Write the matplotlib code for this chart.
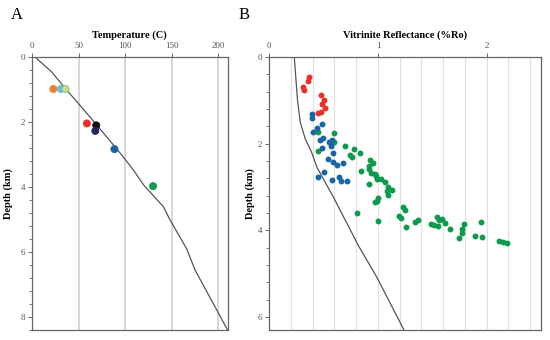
import numpy as np
import matplotlib
matplotlib.use("Agg")
import matplotlib.pyplot as plt
from matplotlib.ticker import MultipleLocator

# ------------------------------------------------------------------
# Panel A: temperature profile and well temperatures
# ------------------------------------------------------------------
temp_line_t = [3.5, 21, 37, 67, 96, 109, 120, 141, 148, 166, 175, 210]
temp_line_z = [0.0, 0.45, 1.0, 2.0, 3.0, 3.48, 3.94, 4.6, 5.0, 5.9, 6.55, 8.4]

temp_pts_t = [23, 31, 36, 59, 69, 68, 88.5, 130]
temp_pts_z = [0.98, 0.98, 0.98, 2.04, 2.1, 2.27, 2.83, 3.97]
temp_pts_c = ["#f07d2c", "#5cc3e6", "#c6df8e", "#ec2f2c", "#111111",
              "#24275f", "#1866a5", "#0c9a4c"]
temp_pts_e = ["#f07d2c", "#5cc3e6", "#9bbd5c", "#ec2f2c", "#111111",
              "#24275f", "#1866a5", "#0c9a4c"]

# ------------------------------------------------------------------
# Panel B: vitrinite reflectance model and measurements
# ------------------------------------------------------------------
ro_line_x = [0.23, 0.245, 0.26, 0.285, 0.33, 0.39, 0.44, 0.59, 0.82, 0.99, 1.24]
ro_line_z = [0.0, 0.5, 1.0, 1.5, 1.88, 2.2, 2.55, 3.23, 4.35, 5.08, 6.3]

red_ro = [0.365, 0.359, 0.313, 0.322, 0.473, 0.503, 0.482, 0.512, 0.476, 0.445]
red_z = [0.46, 0.56, 0.68, 0.77, 0.88, 0.98, 1.08, 1.18, 1.27, 1.28]

blue_ro = [0.39, 0.39, 0.488, 0.44, 0.405, 0.466, 0.49, 0.552, 0.574, 0.565,
           0.488, 0.583, 0.543, 0.59, 0.62, 0.68, 0.506, 0.445, 0.574, 0.644,
           0.66, 0.712]
blue_z = [1.31, 1.40, 1.54, 1.64, 1.73, 1.91, 1.87, 1.95, 1.92, 2.04,
          2.09, 2.22, 2.36, 2.42, 2.50, 2.45, 2.64, 2.77, 2.83, 2.76,
          2.85, 2.85]

green_ro = [0.45, 0.60, 0.595, 0.445, 0.70, 0.78, 0.834, 0.742, 0.758, 0.84,
            0.93, 0.955, 0.917, 0.914, 0.94, 0.97, 0.985, 0.917, 0.99, 1.025,
            1.064, 1.09, 1.13, 1.08, 1.095, 1.0, 0.993, 0.97, 0.81, 0.997,
            1.19, 1.21, 1.233, 1.25, 1.26, 1.34, 1.365, 1.49, 1.52, 1.55,
            1.54, 1.56, 1.59, 1.62, 1.66, 1.745, 1.77, 1.77, 1.79, 1.89,
            1.95, 1.96, 2.11, 2.15, 2.19]
green_z = [1.73, 1.75, 1.95, 2.17, 2.06, 2.13, 2.21, 2.25, 2.31, 2.62,
           2.38, 2.45, 2.52, 2.59, 2.67, 2.69, 2.74, 2.92, 2.82, 2.81,
           2.89, 3.0, 3.06, 3.10, 3.18, 3.25, 3.31, 3.35, 3.59, 3.79,
           3.67, 3.71, 3.46, 3.53, 3.93, 3.81, 3.77, 3.84, 3.87, 3.89,
           3.69, 3.76, 3.73, 3.83, 3.96, 4.18, 4.06, 3.97, 3.86, 4.13,
           3.81, 4.14, 4.24, 4.27, 4.29]


def style_axis(ax, xlabel, ylabel_x):
    ax.invert_yaxis()
    ax.xaxis.tick_top()
    ax.xaxis.set_label_position("top")
    ax.set_xlabel(xlabel, fontweight="bold", fontsize=7.5, labelpad=3)
    ax.set_ylabel("Depth (km)", fontweight="bold", fontsize=7.5)
    ax.yaxis.set_label_coords(ylabel_x, 0.5)
    ax.yaxis.set_minor_locator(MultipleLocator(0.4))
    ax.tick_params(which="both", direction="out", colors="#666666",
                   labelsize=6.5, labelcolor="#555555", pad=2)
    ax.tick_params(which="major", length=3, width=0.7)
    ax.tick_params(which="minor", length=2, width=0.6)
    for sp in ax.spines.values():
        sp.set_color("#666666")
        sp.set_linewidth(0.9)


def main():
    plt.rcParams.update({
        "font.family": ["Liberation Serif", "DejaVu Serif"],
        "figure.facecolor": "white",
    })

    fig = plt.figure(figsize=(5.5, 3.4), dpi=100)
    ax_a = fig.add_axes([0.058, 0.029, 0.356, 0.803])
    ax_b = fig.add_axes([0.4896, 0.029, 0.494, 0.803])

    # ---- panel A ----
    for xv in [50, 100, 150, 200]:
        ax_a.axvline(xv, color="#d4d4d4", lw=1.3, zorder=0)
    ax_a.plot(temp_line_t, temp_line_z, color="#555555", lw=0.9, zorder=2)
    ax_a.scatter(temp_pts_t, temp_pts_z, s=26, c=temp_pts_c,
                 edgecolors=temp_pts_e, linewidths=0.6, zorder=3)
    ax_a.set_xlim(0, 210)
    ax_a.set_ylim(0, 8.4)
    ax_a.set_xticks([0, 50, 100, 150, 200])
    ax_a.set_yticks([0, 2, 4, 6, 8])
    style_axis(ax_a, "Temperature (C)", -0.095)

    # ---- panel B ----
    for xv in np.arange(0.2, 2.41, 0.2):
        ax_b.axvline(xv, color="#e2e2e2", lw=0.9, zorder=0)
    ax_b.plot(ro_line_x, ro_line_z, color="#555555", lw=0.9, zorder=2)
    ax_b.scatter(green_ro, green_z, s=18, color="#0c9a4c", lw=0, zorder=3)
    ax_b.scatter(blue_ro, blue_z, s=18, color="#1866a5", lw=0, zorder=3)
    ax_b.scatter(red_ro, red_z, s=18, color="#e8302d", lw=0, zorder=3)
    ax_b.set_xlim(0, 2.5)
    ax_b.set_ylim(0, 6.3)
    ax_b.set_xticks([0, 1, 2])
    ax_b.set_yticks([0, 2, 4, 6])
    style_axis(ax_b, "Vitrinite Reflectance (%Ro)", -0.052)

    fig.text(0.02, 0.955, "A", fontsize=12, va="center")
    fig.text(0.433, 0.955, "B", fontsize=12, va="center")

    fig.savefig("out.png", dpi=100)
    plt.close(fig)


if __name__ == "__main__":
    main()
